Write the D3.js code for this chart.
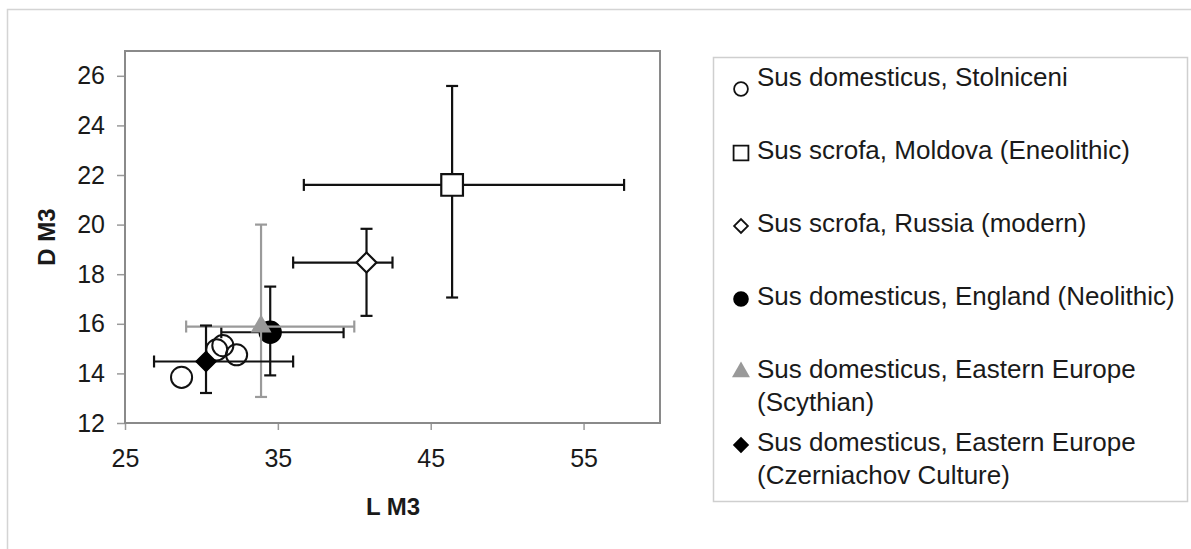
<!DOCTYPE html>
<html lang="en">
<head>
    <meta charset="UTF-8">
    <title>L M3 / D M3</title>
    <script src="https://cdn.jsdelivr.net/npm/d3@7"></script>
    <style>
        body { margin: 0; background: #ffffff; }
        text { font-family: "Liberation Sans", Arial, sans-serif; fill: #1a1a1a; }
        .tick line { stroke: #9a9a9a; stroke-width: 1.5px; }
        .tick text { font-size: 25px; }
        .axis-title { font-size: 24px; font-weight: bold; }
        .legend-text { font-size: 26px; }
    </style>
</head>
<body>
    <div id="canvas"></div>

    <script>
        // Sus domesticus, Stolniceni (single specimens)
        const stolX = [28.7, 31.0, 31.4, 32.3];
        const stolY = [13.84, 14.95, 15.12, 14.75];

        // group means with ranges
        const groupX = [46.4, 40.8, 34.5, 33.9, 30.3];
        const groupY = [21.6, 18.47, 15.66, 15.89, 14.48];
        const groupXLow = [36.7, 36.0, 31.3, 29.0, 26.9];
        const groupXHigh = [57.65, 42.5, 39.3, 40.0, 36.0];
        const groupYLow = [17.06, 16.32, 13.92, 13.05, 13.21];
        const groupYHigh = [25.59, 19.83, 17.5, 20.0, 15.93];

        const xTicks = [25, 35, 45, 55];
        const yTicks = [12, 14, 16, 18, 20, 22, 24, 26];

        const legendLines = [
            ['Sus domesticus, Stolniceni'],
            ['Sus scrofa, Moldova (Eneolithic)'],
            ['Sus scrofa, Russia (modern)'],
            ['Sus domesticus, England (Neolithic)'],
            ['Sus domesticus, Eastern Europe', '(Scythian)'],
            ['Sus domesticus, Eastern Europe', '(Czerniachov Culture)']
        ];
    </script>

    <script>
        const width = 1191;
        const height = 549;
        const plot = { left: 125, top: 51, right: 660, bottom: 423 };

        // marker styles: stolniceni first, then the five groups
        const styles = [
            { type: d3.symbolCircle, size: 350, rot: 0, fill: 'none', stroke: '#111', legendSize: 150 },
            { type: d3.symbolSquare, size: 470, rot: 0, fill: '#fff', stroke: '#111', legendSize: 220 },
            { type: d3.symbolSquare, size: 200, rot: 45, fill: '#fff', stroke: '#111', legendSize: 95 },
            { type: d3.symbolCircle, size: 350, rot: 0, fill: '#000', stroke: '#000', legendSize: 150 },
            { type: d3.symbolTriangle, size: 190, rot: 0, fill: '#999', stroke: 'none', legendSize: 140 },
            { type: d3.symbolSquare, size: 180, rot: 45, fill: '#000', stroke: '#000', legendSize: 95 }
        ];
        const barColors = ['#111', '#111', '#111', '#9a9a9a', '#111'];

        const svg = d3.select('#canvas')
            .append('svg')
            .attr('width', width)
            .attr('height', height);

        svg.append('rect')
            .attr('width', width)
            .attr('height', height)
            .attr('fill', '#ffffff');

        // outer chart border
        svg.append('rect')
            .attr('x', 7.5)
            .attr('y', 9.5)
            .attr('width', 1200)
            .attr('height', 600)
            .attr('fill', 'none')
            .attr('stroke', '#d4d4d4')
            .attr('stroke-width', 1.5);

        const x = d3.scaleLinear().domain([25, 60]).range([plot.left, plot.right]);
        const y = d3.scaleLinear().domain([12, 27]).range([plot.bottom, plot.top]);

        // axes
        svg.append('g')
            .attr('transform', `translate(${plot.left},0)`)
            .call(d3.axisLeft(y).tickValues(yTicks).tickSize(8).tickPadding(12))
            .call(g => g.select('.domain').remove());

        svg.append('g')
            .attr('transform', `translate(0,${plot.bottom})`)
            .call(d3.axisBottom(x).tickValues(xTicks).tickSize(7).tickPadding(19))
            .call(g => g.select('.domain').remove());

        svg.selectAll('.tick text').attr('fill', '#1a1a1a');

        // plot frame
        svg.append('rect')
            .attr('x', plot.left)
            .attr('y', plot.top)
            .attr('width', plot.right - plot.left)
            .attr('height', plot.bottom - plot.top)
            .attr('fill', 'none')
            .attr('stroke', '#8a8a8a')
            .attr('stroke-width', 2);

        // axis titles
        svg.append('text')
            .attr('class', 'axis-title')
            .attr('transform', 'translate(55,237) rotate(-90)')
            .attr('text-anchor', 'middle')
            .text('D M3');

        svg.append('text')
            .attr('class', 'axis-title')
            .attr('x', 393)
            .attr('y', 515)
            .attr('text-anchor', 'middle')
            .text('L M3');

        const symbolPath = (s, size) => d3.symbol().type(s.type).size(size)();

        // stolniceni points
        svg.append('g')
            .selectAll('path')
            .data(stolX.map((v, i) => [v, stolY[i]]))
            .join('path')
            .attr('d', symbolPath(styles[0], styles[0].size))
            .attr('transform', d => `translate(${x(d[0])},${y(d[1])})`)
            .attr('fill', styles[0].fill)
            .attr('stroke', styles[0].stroke)
            .attr('stroke-width', 2);

        // groups: error bars then marker
        const cap = 6;
        groupX.forEach((gx, i) => {
            const g = svg.append('g');
            const c = barColors[i];
            const cx = x(gx), cy = y(groupY[i]);
            const x0 = x(groupXLow[i]), x1 = x(groupXHigh[i]);
            const y0 = y(groupYLow[i]), y1 = y(groupYHigh[i]);
            const segs = [
                [x0, cy, x1, cy],
                [x0, cy - cap, x0, cy + cap],
                [x1, cy - cap, x1, cy + cap],
                [cx, y0, cx, y1],
                [cx - cap, y0, cx + cap, y0],
                [cx - cap, y1, cx + cap, y1]
            ];
            g.selectAll('line')
                .data(segs)
                .join('line')
                .attr('x1', d => d[0]).attr('y1', d => d[1])
                .attr('x2', d => d[2]).attr('y2', d => d[3])
                .attr('stroke', c)
                .attr('stroke-width', 2.2);

            const s = styles[i + 1];
            g.append('path')
                .attr('d', symbolPath(s, s.size))
                .attr('transform', `translate(${cx},${cy}) rotate(${s.rot})`)
                .attr('fill', s.fill)
                .attr('stroke', s.stroke)
                .attr('stroke-width', 2.2);
        });

        // legend
        const legend = svg.append('g');
        legend.append('rect')
            .attr('x', 713.5)
            .attr('y', 57.5)
            .attr('width', 474)
            .attr('height', 444)
            .attr('fill', '#fff')
            .attr('stroke', '#cfcfcf')
            .attr('stroke-width', 1.5);

        legendLines.forEach((lines, i) => {
            const base = 86 + i * 73;
            const s = styles[i];
            legend.append('path')
                .attr('d', symbolPath(s, s.legendSize))
                .attr('transform', `translate(741,${base - (i === 0 ? -3 : 6)}) rotate(${s.rot})`)
                .attr('fill', s.fill)
                .attr('stroke', s.stroke)
                .attr('stroke-width', 1.8);
            const t = legend.append('text')
                .attr('class', 'legend-text')
                .attr('x', 757)
                .attr('y', base);
            lines.forEach((line, j) => {
                t.append('tspan')
                    .attr('x', 757)
                    .attr('y', base + j * 32.7)
                    .text(line);
            });
        });
    </script>
</body>
</html>
